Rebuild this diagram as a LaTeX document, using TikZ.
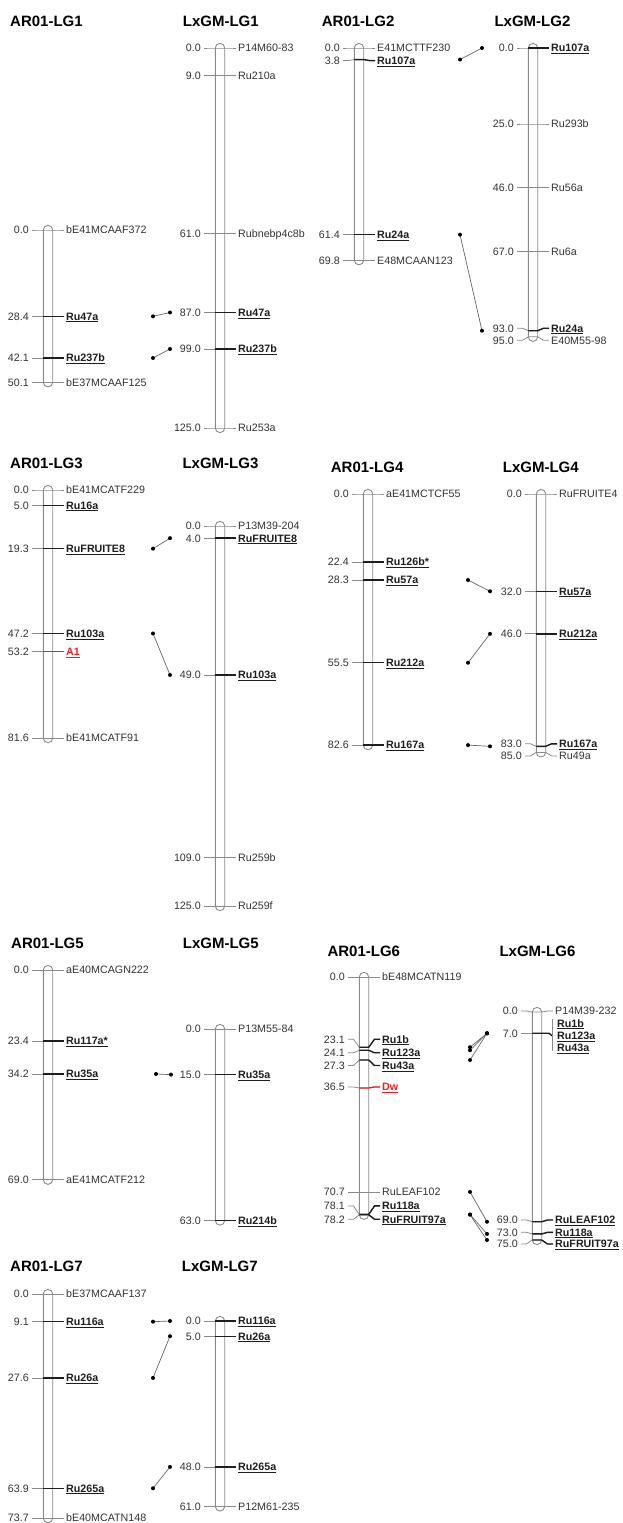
\documentclass[tikz,border=0pt]{standalone}
\usepackage{fontspec}
\setmainfont{Liberation Sans}
\definecolor{tk}{HTML}{8A8A8A}
\definecolor{tx}{HTML}{333333}
\definecolor{mr}{HTML}{E8231F}
\definecolor{cl}{HTML}{666666}
\definecolor{bk}{HTML}{1E1E1E}
\newcommand{\cmsc}{3.04}
\newcommand{\fmtn}[1]{#1}
\newcommand{\fmtb}[1]{\underline{#1}}
\newcommand{\fmtr}[1]{\underline{#1}}
\tikzset{
 chrom/.style={draw=tk, line width=0.9pt, rounded corners=4.6pt},
 tick/.style={draw=tk, line width=0.8pt},
 ov n/.style={draw=none},
 ov b/.style={draw=bk, line width=1.4pt},
 ov r/.style={draw=mr, line width=1.3pt},
 txt/.style={font=\fontsize{10.7}{12}\selectfont, inner sep=0pt, text height=7.7pt, text depth=0pt},
 num/.style={txt, text=tx, anchor=east},
 lab n/.style={txt, text=tx, anchor=west},
 lab b/.style={txt, font=\fontsize{10.7}{12}\selectfont\bfseries, text=bk, anchor=west},
 lab r/.style={txt, font=\fontsize{10.7}{12}\selectfont\bfseries, text=mr, anchor=west},
 ttl/.style={font=\fontsize{15}{18}\selectfont\bfseries, anchor=base west, inner sep=0pt},
 conn/.style={draw=cl, line width=0.7pt}
}
% chromosome: cx, y0, length (cM)
\newcommand{\chrom}[3]{%
 \draw[chrom] (#1-4.7,#2-4.6) rectangle (#1+4.7,#2+\cmsc*#3+4.6);}
% marker: cx, y0, pos, label dy, number, label, style, name
\newcommand{\mk}[8]{%
 \pgfmathsetmacro{\myy}{#2+\cmsc*#3}%
 \pgfmathsetmacro{\myl}{\myy+#4}%
 \draw[tick] (#1-16,\myl) -- (#1-10.5,\myl) -- (#1-4.7,\myy) -- (#1+4.7,\myy) -- (#1+10.5,\myl) -- (#1+16,\myl);
 \draw[ov #7] (#1-4.7,\myy) -- (#1+4.7,\myy) -- (#1+10.5,\myl) -- (#1+16,\myl);
 \node[num] (#8n) at (#1-19,\myl) {#5};
 \node[lab #7] (#8) at (#1+18,\myl) {\csname fmt#7\endcsname{#6}};}
% connector: name, x1, y0A, posA, x2, y0B, posB
\newcommand{\cn}[7]{%
 \pgfmathsetmacro{\mya}{#3+\cmsc*#4}%
 \pgfmathsetmacro{\myb}{#6+\cmsc*#7}%
 \coordinate (#1a) at (#2,\mya);
 \coordinate (#1b) at (#5,\myb);
 \draw[conn] (#1a) -- (#1b);
 \fill (#1a) circle (2pt);
 \fill (#1b) circle (2pt);}
\begin{document}
\begin{tikzpicture}[x=1pt,y=-1pt]
\useasboundingbox[fill=white] (0,0) rectangle (623,1523);
% titles
\node[ttl] (t1) at (10,26) {AR01-LG1};
\node[ttl] (t2) at (182.7,26) {LxGM-LG1};
\node[ttl] (t3) at (321.7,26) {AR01-LG2};
\node[ttl] (t4) at (494.3,26) {LxGM-LG2};
\node[ttl] (t5) at (10,468) {AR01-LG3};
\node[ttl] (t6) at (182.3,468) {LxGM-LG3};
\node[ttl] (t7) at (330.7,472) {AR01-LG4};
\node[ttl] (t8) at (502.7,472) {LxGM-LG4};
\node[ttl] (t9) at (11,948) {AR01-LG5};
\node[ttl] (t10) at (182.7,948) {LxGM-LG5};
\node[ttl] (t11) at (327.3,956) {AR01-LG6};
\node[ttl] (t12) at (499.3,956) {LxGM-LG6};
\node[ttl] (t13) at (10,1271) {AR01-LG7};
\node[ttl] (t14) at (181.7,1271) {LxGM-LG7};
% ---------- LG1
\chrom{48}{230}{50.1}
\mk{48}{230}{0}{0}{0.0}{bE41MCAAF372}{n}{a1m1}
\mk{48}{230}{28.4}{0}{28.4}{Ru47a}{b}{a1m2}
\mk{48}{230}{42.1}{0}{42.1}{Ru237b}{b}{a1m3}
\mk{48}{230}{50.1}{0}{50.1}{bE37MCAAF125}{n}{a1m4}
\chrom{220}{48}{125}
\mk{220}{48}{0}{0}{0.0}{P14M60-83}{n}{l1m1}
\mk{220}{48}{9}{0}{9.0}{Ru210a}{n}{l1m2}
\mk{220}{48}{61}{0}{61.0}{Rubnebp4c8b}{n}{l1m3}
\mk{220}{48}{87}{0}{87.0}{Ru47a}{b}{l1m4}
\mk{220}{48}{99}{0}{99.0}{Ru237b}{b}{l1m5}
\mk{220}{48}{125}{0}{125.0}{Ru253a}{n}{l1m6}
% ---------- LG2
\chrom{359}{48}{69.8}
\mk{359}{48}{0}{0}{0.0}{E41MCTTF230}{n}{a2m1}
\mk{359}{48}{3.8}{1}{3.8}{Ru107a}{b}{a2m2}
\mk{359}{48}{61.4}{0}{61.4}{Ru24a}{b}{a2m3}
\mk{359}{48}{69.8}{0}{69.8}{E48MCAAN123}{n}{a2m4}
\chrom{533}{48}{95}
\mk{533}{48}{0}{0}{0.0}{Ru107a}{b}{l2m1}
\mk{533}{48}{25}{0}{25.0}{Ru293b}{n}{l2m2}
\mk{533}{48}{46}{0}{46.0}{Ru56a}{n}{l2m3}
\mk{533}{48}{67}{0}{67.0}{Ru6a}{n}{l2m4}
\mk{533}{48}{93}{-2.5}{93.0}{Ru24a}{b}{l2m5}
\mk{533}{48}{95}{3.5}{95.0}{E40M55-98}{n}{l2m6}
\cn{c1}{153}{230}{28.4}{170}{48}{87}
\cn{c2}{153}{230}{42.1}{170}{48}{99}
\cn{c3}{460}{48}{3.8}{482}{48}{0}
\cn{c4}{460}{48}{61.4}{482}{48}{93}
% ---------- LG3
\chrom{48}{490}{81.6}
\mk{48}{490}{0}{0}{0.0}{bE41MCATF229}{n}{a3m1}
\mk{48}{490}{5}{0}{5.0}{Ru16a}{b}{a3m2}
\mk{48}{490}{19.3}{0}{19.3}{RuFRUITE8}{b}{a3m3}
\mk{48}{490}{47.2}{0}{47.2}{Ru103a}{b}{a3m4}
\mk{48}{490}{53.2}{0}{53.2}{A1}{r}{a3m5}
\mk{48}{490}{81.6}{0}{81.6}{bE41MCATF91}{n}{a3m6}
\chrom{220}{526}{125}
\mk{220}{526}{0}{0}{0.0}{P13M39-204}{n}{l3m1}
\mk{220}{526}{4}{0}{4.0}{RuFRUITE8}{b}{l3m2}
\mk{220}{526}{49}{0}{49.0}{Ru103a}{b}{l3m3}
\mk{220}{526}{109}{0}{109.0}{Ru259b}{n}{l3m4}
\mk{220}{526}{125}{0}{125.0}{Ru259f}{n}{l3m5}
\cn{c5}{153}{490}{19.3}{170}{526}{4}
\cn{c6}{153}{490}{47.2}{170}{526}{49}
% ---------- LG4
\chrom{368}{494}{82.6}
\mk{368}{494}{0}{0}{0.0}{aE41MCTCF55}{n}{a4m1}
\mk{368}{494}{22.4}{0}{22.4}{Ru126b*}{b}{a4m2}
\mk{368}{494}{28.3}{0}{28.3}{Ru57a}{b}{a4m3}
\mk{368}{494}{55.5}{0}{55.5}{Ru212a}{b}{a4m4}
\mk{368}{494}{82.6}{0}{82.6}{Ru167a}{b}{a4m5}
\chrom{541}{494}{85}
\mk{541}{494}{0}{0}{0.0}{RuFRUITE4}{n}{l4m1}
\mk{541}{494}{32}{0}{32.0}{Ru57a}{b}{l4m2}
\mk{541}{494}{46}{0}{46.0}{Ru212a}{b}{l4m3}
\mk{541}{494}{83}{-2.5}{83.0}{Ru167a}{b}{l4m4}
\mk{541}{494}{85}{3.5}{85.0}{Ru49a}{n}{l4m5}
\cn{c7}{468}{494}{28.3}{490}{494}{32}
\cn{c8}{468}{494}{55.5}{490}{494}{46}
\cn{c9}{468}{494}{82.6}{490}{494}{83}
% ---------- LG5
\chrom{48}{970}{69}
\mk{48}{970}{0}{0}{0.0}{aE40MCAGN222}{n}{a5m1}
\mk{48}{970}{23.4}{0}{23.4}{Ru117a*}{b}{a5m2}
\mk{48}{970}{34.2}{0}{34.2}{Ru35a}{b}{a5m3}
\mk{48}{970}{69}{0}{69.0}{aE41MCATF212}{n}{a5m4}
\chrom{220}{1029}{63}
\mk{220}{1029}{0}{0}{0.0}{P13M55-84}{n}{l5m1}
\mk{220}{1029}{15}{0}{15.0}{Ru35a}{b}{l5m2}
\mk{220}{1029}{63}{0}{63.0}{Ru214b}{b}{l5m3}
\cn{c10}{156}{970}{34.2}{171}{1029}{15}
% ---------- LG6
\chrom{364}{977}{78.2}
\mk{364}{977}{0}{0}{0.0}{bE48MCATN119}{n}{a6m1}
\mk{364}{977}{23.1}{-8}{23.1}{Ru1b}{b}{a6m2}
\mk{364}{977}{24.1}{2.5}{24.1}{Ru123a}{b}{a6m3}
\mk{364}{977}{27.3}{5.5}{27.3}{Ru43a}{b}{a6m4}
\mk{364}{977}{36.5}{-1}{36.5}{Dw}{r}{a6m5}
\mk{364}{977}{70.7}{0}{70.7}{RuLEAF102}{n}{a6m6}
\mk{364}{977}{78.1}{-8.5}{78.1}{Ru118a}{b}{a6m7}
\mk{364}{977}{78.2}{4.5}{78.2}{RuFRUIT97a}{b}{a6m8}
\chrom{537}{1012}{75}
\mk{537}{1012}{0}{-1}{0.0}{P14M39-232}{n}{l6m1}
\pgfmathsetmacro{\myy}{1012+\cmsc*7}
\draw[tick] (537-16,\myy) -- (537+4.7,\myy);
\draw[ov b] (537-4.7,\myy) -- (537+12,\myy) -- (537+15,1035.7);
\draw[tick] (537+15,1019) -- (537+15,1051);
\node[num] (l6m2n) at (537-19,\myy) {7.0};
\node[lab b] (l6m2a) at (557,1023.3) {\underline{Ru1b}};
\node[lab b] (l6m2b) at (557,1035.7) {\underline{Ru123a}};
\node[lab b] (l6m2c) at (557,1047.7) {\underline{Ru43a}};
\mk{537}{1012}{69}{-1.8}{69.0}{RuLEAF102}{b}{l6m3}
\mk{537}{1012}{73}{-1.6}{73.0}{Ru118a}{b}{l6m4}
\mk{537}{1012}{75}{4}{75.0}{RuFRUIT97a}{b}{l6m5}
\cn{c11}{470}{977}{23.1}{487}{1012}{7}
\cn{c12}{470}{977}{24.1}{487}{1012}{7}
\cn{c13}{470}{977}{27.3}{487}{1012}{7}
\cn{c14}{470}{977}{70.7}{487}{1012}{69}
\cn{c15}{470}{977}{78.1}{487}{1012}{73}
\cn{c16}{470}{977}{78.2}{487}{1012}{75}
% ---------- LG7
\chrom{48}{1294}{73.7}
\mk{48}{1294}{0}{0}{0.0}{bE37MCAAF137}{n}{a7m1}
\mk{48}{1294}{9.1}{0}{9.1}{Ru116a}{b}{a7m2}
\mk{48}{1294}{27.6}{0}{27.6}{Ru26a}{b}{a7m3}
\mk{48}{1294}{63.9}{0}{63.9}{Ru265a}{b}{a7m4}
\mk{48}{1294}{73.7}{0}{73.7}{bE40MCATN148}{n}{a7m5}
\chrom{220}{1321}{61}
\mk{220}{1321}{0}{0}{0.0}{Ru116a}{b}{l7m1}
\mk{220}{1321}{5}{0}{5.0}{Ru26a}{b}{l7m2}
\mk{220}{1321}{48}{0}{48.0}{Ru265a}{b}{l7m3}
\mk{220}{1321}{61}{0}{61.0}{P12M61-235}{n}{l7m4}
\cn{c17}{153}{1294}{9.1}{170}{1321}{0}
\cn{c18}{153}{1294}{27.6}{170}{1321}{5}
\cn{c19}{153}{1294}{63.9}{170}{1321}{48}
\end{tikzpicture}
\end{document}
